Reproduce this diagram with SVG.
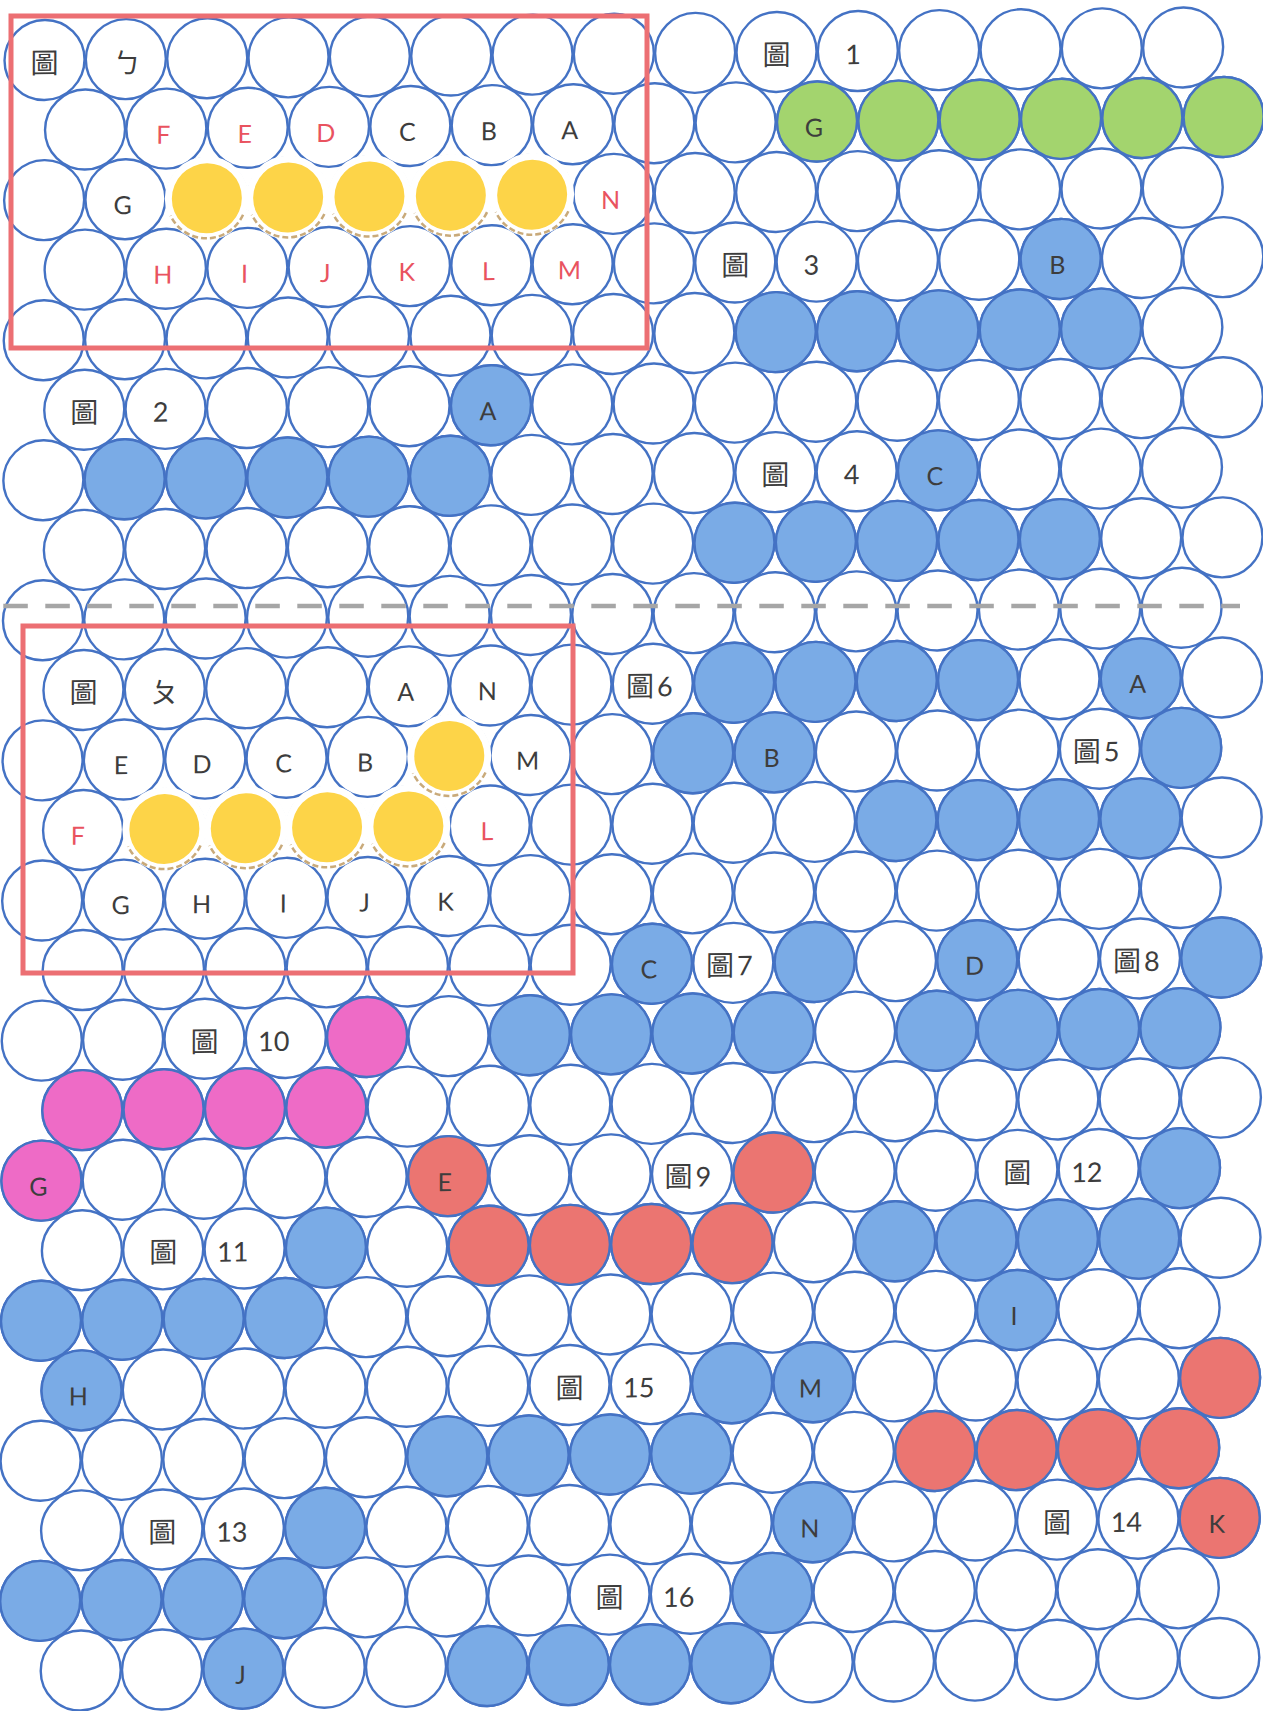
<svg xmlns="http://www.w3.org/2000/svg" width="1263" height="1711" viewBox="0 0 1263 1711">
<style>
circle{fill:#fff;stroke:#4472C4;stroke-width:2.4}
.b{fill:#7AABE6}
.g{fill:#A3D46E}
.p{fill:#EE6BC6}
.s{fill:#EB7571}
.y{fill:#FDD448;stroke:none}
.h{fill:#fff;stroke:none}
.tan{fill:none;stroke:#C9AA7A;stroke-width:2.5;stroke-dasharray:6 3}
text{font-family:Lato,"Noto Sans CJK TC",sans-serif;fill:#3D3D3D;text-anchor:middle;font-size:25px}
.r{fill:#E9535F}
.c{font-family:"Noto Sans CJK TC",sans-serif;font-size:28px}
.n{font-size:27px}
.d{font-family:Lato,sans-serif;font-size:27px}
.box{fill:none;stroke:#EC6F73;stroke-width:5}
.dash{fill:none;stroke:#A6A6A6;stroke-width:4.5;stroke-dasharray:24.5 17.5}
</style>
<defs>
<g id="ro">
<circle cx="44.5" cy="0" r="40"/><circle cx="125.8" cy="0" r="40"/><circle cx="207.2" cy="0" r="40"/><circle cx="288.5" cy="0" r="40"/><circle cx="369.8" cy="0" r="40"/><circle cx="451.2" cy="0" r="40"/><circle cx="532.5" cy="0" r="40"/><circle cx="613.8" cy="0" r="40"/><circle cx="695.1" cy="0" r="40"/><circle cx="776.5" cy="0" r="40"/><circle cx="857.8" cy="0" r="40"/><circle cx="939.1" cy="0" r="40"/><circle cx="1020.5" cy="0" r="40"/><circle cx="1101.8" cy="0" r="40"/><circle cx="1183.1" cy="0" r="40"/>
</g>
<g id="re">
<circle cx="85.2" cy="0" r="40"/><circle cx="166.5" cy="0" r="40"/><circle cx="247.9" cy="0" r="40"/><circle cx="329.2" cy="0" r="40"/><circle cx="410.5" cy="0" r="40"/><circle cx="491.9" cy="0" r="40"/><circle cx="573.2" cy="0" r="40"/><circle cx="654.5" cy="0" r="40"/><circle cx="735.8" cy="0" r="40"/><circle cx="817.2" cy="0" r="40"/><circle cx="898.5" cy="0" r="40"/><circle cx="979.8" cy="0" r="40"/><circle cx="1061.2" cy="0" r="40"/><circle cx="1142.5" cy="0" r="40"/><circle cx="1223.8" cy="0" r="40"/>
</g>
</defs>
<rect width="1263" height="1711" fill="#fff"/>
<g id="grid" transform="matrix(1 -0.011 -0.0028 1 0.2 0.5)">
<g id="base-rows">
<use href="#ro" y="60"/><use href="#re" y="130"/>
<use href="#ro" y="200.1"/><use href="#re" y="270.1"/>
<use href="#ro" y="340.2"/><use href="#re" y="410.2"/>
<use href="#ro" y="480.2"/><use href="#re" y="550.3"/>
<use href="#ro" y="620.3"/><use href="#re" y="690.4"/>
<use href="#ro" y="760.4"/><use href="#re" y="830.4"/>
<use href="#ro" y="900.5"/><use href="#re" y="970.5"/>
<use href="#ro" y="1040.6"/><use href="#re" y="1110.6"/>
<use href="#ro" y="1180.6"/><use href="#re" y="1250.7"/>
<use href="#ro" y="1320.7"/><use href="#re" y="1390.8"/>
<use href="#ro" y="1460.8"/><use href="#re" y="1530.8"/>
<use href="#ro" y="1600.9"/><use href="#re" y="1670.9"/>
</g>
<g id="fig1" class="g">
<circle class="g" cx="817.2" cy="130" r="40"/><circle class="g" cx="898.5" cy="130" r="40"/><circle class="g" cx="979.8" cy="130" r="40"/><circle class="g" cx="1061.2" cy="130" r="40"/><circle class="g" cx="1142.5" cy="130" r="40"/><circle class="g" cx="1223.8" cy="130" r="40"/>
</g>
<g id="fig3">
<circle class="b" cx="1061.2" cy="270.1" r="40"/>
<circle class="b" cx="776.5" cy="340.2" r="40"/><circle class="b" cx="857.8" cy="340.2" r="40"/><circle class="b" cx="939.1" cy="340.2" r="40"/><circle class="b" cx="1020.5" cy="340.2" r="40"/><circle class="b" cx="1101.8" cy="340.2" r="40"/>
</g>
<g id="fig2">
<circle class="b" cx="491.9" cy="410.2" r="40"/>
<circle class="b" cx="125.8" cy="480.2" r="40"/><circle class="b" cx="207.2" cy="480.2" r="40"/><circle class="b" cx="288.5" cy="480.2" r="40"/><circle class="b" cx="369.8" cy="480.2" r="40"/><circle class="b" cx="451.2" cy="480.2" r="40"/>
</g>
<g id="fig4">
<circle class="b" cx="939.1" cy="480.2" r="40"/>
<circle class="b" cx="735.8" cy="550.3" r="40"/><circle class="b" cx="817.2" cy="550.3" r="40"/><circle class="b" cx="898.5" cy="550.3" r="40"/><circle class="b" cx="979.8" cy="550.3" r="40"/><circle class="b" cx="1061.2" cy="550.3" r="40"/>
</g>
<g id="fig6">
<circle class="b" cx="735.8" cy="690.4" r="40"/><circle class="b" cx="817.2" cy="690.4" r="40"/><circle class="b" cx="898.5" cy="690.4" r="40"/><circle class="b" cx="979.8" cy="690.4" r="40"/>
<circle class="b" cx="695.1" cy="760.4" r="40"/><circle class="b" cx="776.5" cy="760.4" r="40"/>
</g>
<g id="fig5">
<circle class="b" cx="1142.5" cy="690.4" r="40"/>
<circle class="b" cx="1183.1" cy="760.4" r="40"/>
<circle class="b" cx="898.5" cy="830.4" r="40"/><circle class="b" cx="979.8" cy="830.4" r="40"/><circle class="b" cx="1061.2" cy="830.4" r="40"/><circle class="b" cx="1142.5" cy="830.4" r="40"/>
</g>
<g id="fig7">
<circle class="b" cx="654.5" cy="970.5" r="40"/><circle class="b" cx="817.2" cy="970.5" r="40"/>
<circle class="b" cx="532.5" cy="1040.6" r="40"/><circle class="b" cx="613.8" cy="1040.6" r="40"/><circle class="b" cx="695.1" cy="1040.6" r="40"/><circle class="b" cx="776.5" cy="1040.6" r="40"/>
</g>
<g id="fig8">
<circle class="b" cx="979.8" cy="970.5" r="40"/><circle class="b" cx="1223.8" cy="970.5" r="40"/>
<circle class="b" cx="939.1" cy="1040.6" r="40"/><circle class="b" cx="1020.5" cy="1040.6" r="40"/><circle class="b" cx="1101.8" cy="1040.6" r="40"/><circle class="b" cx="1183.1" cy="1040.6" r="40"/>
</g>
<g id="fig10">
<circle class="p" cx="369.8" cy="1040.6" r="40"/>
<circle class="p" cx="85.2" cy="1110.6" r="40"/><circle class="p" cx="166.5" cy="1110.6" r="40"/><circle class="p" cx="247.9" cy="1110.6" r="40"/><circle class="p" cx="329.2" cy="1110.6" r="40"/>
<circle class="p" cx="44.5" cy="1180.6" r="40"/>
</g>
<g id="fig9">
<circle class="s" cx="451.2" cy="1180.6" r="40"/><circle class="s" cx="776.5" cy="1180.6" r="40"/>
<circle class="s" cx="491.9" cy="1250.7" r="40"/><circle class="s" cx="573.2" cy="1250.7" r="40"/><circle class="s" cx="654.5" cy="1250.7" r="40"/><circle class="s" cx="735.8" cy="1250.7" r="40"/>
</g>
<g id="fig12">
<circle class="b" cx="1183.1" cy="1180.6" r="40"/>
<circle class="b" cx="898.5" cy="1250.7" r="40"/><circle class="b" cx="979.8" cy="1250.7" r="40"/><circle class="b" cx="1061.2" cy="1250.7" r="40"/><circle class="b" cx="1142.5" cy="1250.7" r="40"/>
<circle class="b" cx="1020.5" cy="1320.7" r="40"/>
</g>
<g id="fig11">
<circle class="b" cx="329.2" cy="1250.7" r="40"/>
<circle class="b" cx="44.5" cy="1320.7" r="40"/><circle class="b" cx="125.8" cy="1320.7" r="40"/><circle class="b" cx="207.2" cy="1320.7" r="40"/><circle class="b" cx="288.5" cy="1320.7" r="40"/>
<circle class="b" cx="85.2" cy="1390.8" r="40"/>
</g>
<g id="fig15">
<circle class="b" cx="735.8" cy="1390.8" r="40"/><circle class="b" cx="817.2" cy="1390.8" r="40"/>
<circle class="b" cx="451.2" cy="1460.8" r="40"/><circle class="b" cx="532.5" cy="1460.8" r="40"/><circle class="b" cx="613.8" cy="1460.8" r="40"/><circle class="b" cx="695.1" cy="1460.8" r="40"/>
<circle class="b" cx="817.2" cy="1530.8" r="40"/>
</g>
<g id="fig14">
<circle class="s" cx="1223.8" cy="1390.8" r="40"/>
<circle class="s" cx="939.1" cy="1460.8" r="40"/><circle class="s" cx="1020.5" cy="1460.8" r="40"/><circle class="s" cx="1101.8" cy="1460.8" r="40"/><circle class="s" cx="1183.1" cy="1460.8" r="40"/>
<circle class="s" cx="1223.8" cy="1530.8" r="40"/>
</g>
<g id="fig13">
<circle class="b" cx="329.2" cy="1530.8" r="40"/>
<circle class="b" cx="44.5" cy="1600.9" r="40"/><circle class="b" cx="125.8" cy="1600.9" r="40"/><circle class="b" cx="207.2" cy="1600.9" r="40"/><circle class="b" cx="288.5" cy="1600.9" r="40"/>
<circle class="b" cx="247.9" cy="1670.9" r="40"/>
</g>
<g id="fig16">
<circle class="b" cx="776.5" cy="1600.9" r="40"/>
<circle class="b" cx="491.9" cy="1670.9" r="40"/><circle class="b" cx="573.2" cy="1670.9" r="40"/><circle class="b" cx="654.5" cy="1670.9" r="40"/><circle class="b" cx="735.8" cy="1670.9" r="40"/>
</g>
<g id="yellow">
<circle class="h" cx="207.2" cy="200.1" r="42"/><circle class="h" cx="288.5" cy="200.1" r="42"/><circle class="h" cx="369.8" cy="200.1" r="42"/><circle class="h" cx="451.2" cy="200.1" r="42"/><circle class="h" cx="532.5" cy="200.1" r="42"/>
<circle class="h" cx="451.2" cy="760.4" r="42"/>
<circle class="h" cx="166.5" cy="830.4" r="42"/><circle class="h" cx="247.9" cy="830.4" r="42"/><circle class="h" cx="329.2" cy="830.4" r="42"/><circle class="h" cx="410.5" cy="830.4" r="42"/>
<path class="tan" d="M243.45 217A40 40 0 0 1 170.95 217M324.75 217A40 40 0 0 1 252.25 217M406.05 217A40 40 0 0 1 333.55 217M487.45 217A40 40 0 0 1 414.95 217M568.75 217A40 40 0 0 1 496.25 217"/>
<path class="tan" d="M487.45 777.3A40 40 0 0 1 414.95 777.3M202.75 847.3A40 40 0 0 1 130.25 847.3M284.15 847.3A40 40 0 0 1 211.65 847.3M365.45 847.3A40 40 0 0 1 292.95 847.3M446.75 847.3A40 40 0 0 1 374.25 847.3"/>
<circle class="y" cx="207.2" cy="200.1" r="35"/><circle class="y" cx="288.5" cy="200.1" r="35"/><circle class="y" cx="369.8" cy="200.1" r="35"/><circle class="y" cx="451.2" cy="200.1" r="35"/><circle class="y" cx="532.5" cy="200.1" r="35"/>
<circle class="y" cx="451.2" cy="760.4" r="35"/>
<circle class="y" cx="166.5" cy="830.4" r="35"/><circle class="y" cx="247.9" cy="830.4" r="35"/><circle class="y" cx="329.2" cy="830.4" r="35"/><circle class="y" cx="410.5" cy="830.4" r="35"/>
</g>
<g id="labels">
<text class="c" x="44.5" y="73">圖</text><text class="c" x="127" y="74">ㄅ</text><text class="c" x="776.5" y="73">圖</text><text class="n" x="853" y="73">1</text>
<text class="r" x="163.5" y="145">F</text><text class="r" x="245" y="145">E</text><text class="r" x="326" y="145">D</text><text x="407.5" y="145">C</text><text x="489" y="145">B</text><text x="570" y="145">A</text><text x="814" y="145">G</text>
<text x="123" y="215">G</text><text class="r" x="611" y="215">N</text>
<text class="r" x="163.5" y="285">H</text><text class="r" x="245" y="285">I</text><text class="r" x="326" y="285">J</text><text class="r" x="407.5" y="285">K</text><text class="r" x="489" y="285">L</text><text class="r" x="570" y="285">M</text>
<text class="c" x="735.8" y="283">圖</text><text class="n" x="812" y="283">3</text><text x="1058" y="285">B</text>
<text class="c" x="85.2" y="423">圖</text><text class="n" x="161.5" y="423">2</text><text x="489" y="425">A</text>
<text class="c" x="776.5" y="493">圖</text><text class="n" x="852.8" y="493">4</text><text x="936" y="495">C</text>
<text class="c" x="85.2" y="703">圖</text><text class="c" x="166.5" y="704">ㄆ</text><text x="407.5" y="705">A</text><text x="489" y="705">N</text>
<text class="c" x="651" y="703">圖<tspan class="d" dx="3">6</tspan></text><text x="1139.5" y="705">A</text>
<text x="123" y="775">E</text><text x="204" y="775">D</text><text x="285.5" y="775">C</text><text x="367" y="775">B</text><text x="529.5" y="775">M</text><text x="773.5" y="775">B</text>
<text class="c" x="1098" y="773">圖<tspan class="d" dx="3">5</tspan></text>
<text class="r" x="80" y="845">F</text><text class="r" x="489" y="845">L</text>
<text x="123" y="915">G</text><text x="204" y="915">H</text><text x="285.5" y="915">I</text><text x="367" y="915">J</text><text x="448" y="915">K</text>
<text x="651.5" y="985">C</text><text class="c" x="732" y="983">圖<tspan class="d" dx="3">7</tspan></text><text x="977" y="985">D</text><text class="c" x="1139" y="983">圖<tspan class="d" dx="3">8</tspan></text>
<text class="c" x="207.2" y="1053.6">圖</text><text class="n" x="276.5" y="1053.6">10</text>
<text x="41.5" y="1195.6">G</text><text x="448" y="1195.6">E</text><text class="c" x="691" y="1193.6">圖<tspan class="d" dx="3">9</tspan></text>
<text class="c" x="1020.5" y="1193.6">圖</text><text class="n" x="1090" y="1193.6">12</text>
<text class="c" x="166.5" y="1263.7">圖</text><text class="n" x="236" y="1263.7">11</text>
<text x="1017.5" y="1335.7">I</text>
<text x="82" y="1405.8">H</text><text class="c" x="573.2" y="1403.8">圖</text><text class="n" x="642.5" y="1403.8">15</text><text x="814" y="1405.8">M</text>
<text class="c" x="166.5" y="1543.8">圖</text><text class="n" x="236" y="1543.8">13</text><text x="814" y="1545.8">N</text>
<text class="c" x="1061.2" y="1543.8">圖</text><text class="n" x="1130.5" y="1543.8">14</text><text x="1220.8" y="1545.8">K</text>
<text class="c" x="613.8" y="1613.9">圖</text><text class="n" x="683" y="1613.9">16</text>
<text x="245" y="1685.9">J</text>
</g>
</g>
<g id="overlay">
<rect class="box" x="11" y="16" width="636" height="332"/>
<rect class="box" x="23" y="626" width="550" height="347"/>
<line class="dash" x1="3.3" y1="606" x2="1240" y2="606"/>
</g>
</svg>
